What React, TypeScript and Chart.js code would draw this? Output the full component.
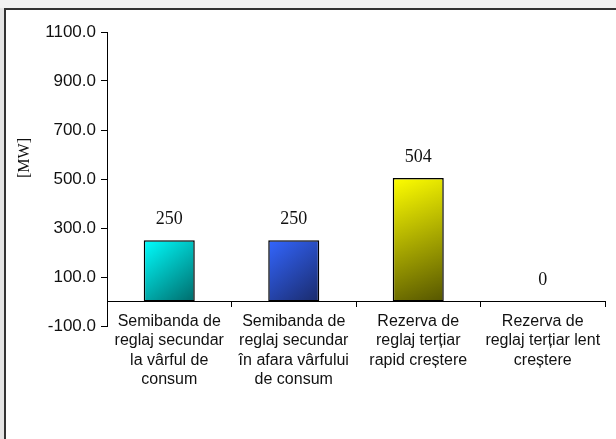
import React, { useEffect, useRef } from "react";
import { Chart, registerables } from "chart.js";

Chart.register(...registerables);

const categories: string[][] = [
  ["Semibanda de", "reglaj secundar", "la vârful de", "consum"],
  ["Semibanda de", "reglaj secundar", "în afara vârfului", "de consum"],
  ["Rezerva de", "reglaj terțiar", "rapid creștere"],
  ["Rezerva de", "reglaj terțiar lent", "creștere"],
];
const values: number[] = [250, 250, 504, 0];
const valueLabels: string[] = ["250", "250", "504", "0"];
const gradientStart: string[] = ["#00ffff", "#3366ff", "#ffff00", "#999999"];
const gradientEnd: string[] = ["#006a6a", "#1a2a6a", "#555500", "#444444"];
const yMin = -100;
const yMax = 1100;
const yStep = 200;
const yTitle = "[MW]";

const BAR_PCT = 0.41;

export default function App() {
  const ref = useRef<HTMLCanvasElement | null>(null);

  useEffect(() => {
    const canvas = ref.current;
    if (!canvas) return;

    const framePlugin = {
      id: "frame",
      beforeDraw(chart: any) {
        const ctx = chart.ctx;
        ctx.save();
        ctx.fillStyle = "#ffffff";
        ctx.fillRect(0, 0, chart.width, chart.height);
        ctx.fillStyle = "#e4e4e4";
        ctx.fillRect(0, 0, 4, chart.height);
        ctx.fillStyle = "#f2f2f2";
        ctx.fillRect(0, 0, chart.width, 8);
        ctx.strokeStyle = "#333333";
        ctx.lineWidth = 2;
        ctx.strokeRect(5, 9, chart.width + 20, chart.height + 20);
        ctx.restore();
      },
    };

    const labelsPlugin = {
      id: "valueLabels",
      afterDatasetsDraw(chart: any) {
        const ctx = chart.ctx;
        const meta = chart.getDatasetMeta(0);
        ctx.save();
        ctx.font = '18px "Liberation Serif"';
        ctx.fillStyle = "#111111";
        ctx.textAlign = "center";
        ctx.textBaseline = "middle";
        meta.data.forEach((el: any, i: number) => {
          ctx.fillText(valueLabels[i], el.x, el.y - 21);
        });
        // y axis title
        ctx.save();
        ctx.translate(25, 158);
        ctx.rotate(-Math.PI / 2);
        ctx.font = '16px "Liberation Serif"';
        ctx.fillText(yTitle, 0, 0);
        ctx.restore();
        ctx.restore();
      },
    };

    const chart = new Chart(canvas, {
      type: "bar",
      data: {
        labels: categories,
        datasets: [
          {
            data: values,
            backgroundColor: (c: any) => {
              const ch = c.chart;
              const i = c.dataIndex;
              const xs = ch.scales?.x;
              const ys = ch.scales?.y;
              if (!xs || !ys || !ch.chartArea || i === undefined) return gradientStart[i ?? 0];
              const cx = xs.getPixelForValue(i);
              const w = (xs.width / categories.length) * BAR_PCT;
              const top = ys.getPixelForValue(values[i]);
              const bottom = ys.getPixelForValue(0);
              const g = ch.ctx.createLinearGradient(cx - w / 2, top, cx + w / 2, bottom);
              g.addColorStop(0, gradientStart[i]);
              g.addColorStop(1, gradientEnd[i]);
              return g;
            },
            borderColor: "#000000",
            borderWidth: 1.5,
            borderSkipped: false,
            barPercentage: BAR_PCT,
            categoryPercentage: 1,
          },
        ],
      },
      options: {
        animation: false,
        responsive: false,
        devicePixelRatio: 1,
        layout: { padding: { left: 0, top: 32, right: 11, bottom: 113 } },
        plugins: {
          legend: { display: false },
          tooltip: { enabled: false },
        },
        scales: {
          x: {
            position: { y: 0 } as any,
            grid: {
              display: true,
              drawOnChartArea: false,
              drawTicks: true,
              tickLength: 5,
              color: "#000000",
              lineWidth: 1,
              offset: true,
            },
            border: { display: true, color: "#000000", width: 1 },
            ticks: {
              autoSkip: false,
              maxRotation: 0,
              minRotation: 0,
              padding: 5,
              color: "#111111",
              font: { family: '"Liberation Sans"', size: 16, lineHeight: 1.22 },
            },
          },
          y: {
            position: "left",
            min: yMin,
            max: yMax,
            afterFit: (s: any) => {
              s.width = 107;
            },
            afterBuildTicks: (s: any) => {
              const t = [];
              for (let v = yMin; v <= yMax; v += yStep) t.push({ value: v });
              s.ticks = t;
            },
            grid: {
              display: true,
              drawOnChartArea: false,
              drawTicks: true,
              tickLength: 6,
              color: "#000000",
              lineWidth: 1,
            },
            border: { display: true, color: "#000000", width: 1 },
            ticks: {
              stepSize: yStep,
              padding: 5,
              color: "#111111",
              font: { family: '"Liberation Sans"', size: 17 },
              callback: (v: any) => Number(v).toFixed(1),
            },
          },
        },
      },
      plugins: [framePlugin, labelsPlugin],
    } as any);

    return () => chart.destroy();
  }, []);

  return (
    <div style={{ position: "fixed", left: 0, top: 0, width: 616, height: 439, background: "#fff" }}>
      <canvas ref={ref} width={616} height={439} style={{ display: "block" }} />
    </div>
  );
}
